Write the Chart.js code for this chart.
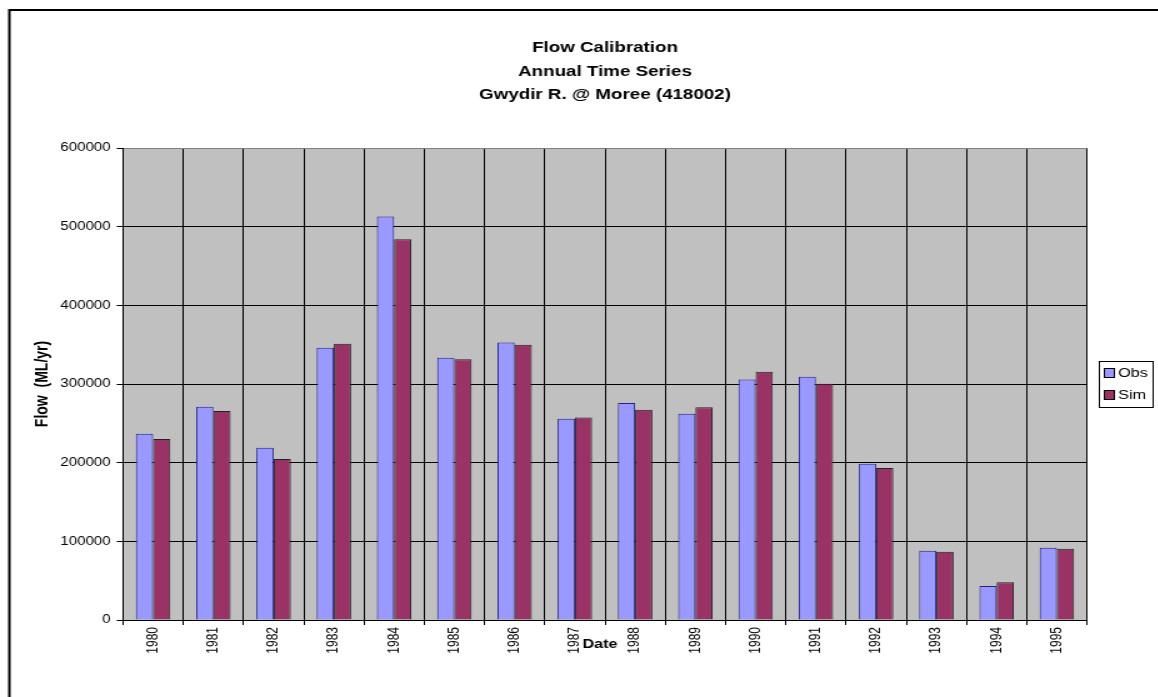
<!DOCTYPE html>
<html>
<head>
<meta charset="utf-8">
<script src="https://cdn.jsdelivr.net/npm/chart.js@4.4.1/dist/chart.umd.min.js"></script>
<style>
  html, body { margin: 0; padding: 0; background: #fff; overflow: hidden; }
  /* the chart is laid out narrow and stretched sideways, like the pasted Excel picture */
  #flow { display: block; transform: scaleX(1.25); transform-origin: 0 0; }
</style>
</head>
<body>
<canvas id="flow" width="927" height="697"></canvas>
<script>
// Annual flow, observed vs simulated (ML/yr)
const YEARS = ['1980', '1981', '1982', '1983', '1984', '1985', '1986', '1987',
               '1988', '1989', '1990', '1991', '1992', '1993', '1994', '1995'];
const OBS = [236700, 271000, 219000, 346000, 513000, 333300, 352900, 255800,
             275700, 262200, 305800, 309200, 198600, 88100, 43200, 91900];
const SIM = [230000, 265600, 204600, 351100, 484100, 331600, 349900, 257500,
             267200, 270600, 315500, 300300, 193100, 86800, 47900, 90600];
const TITLE_LINES = ['Flow Calibration', 'Annual Time Series', 'Gwydir R. @ Moree (418002)'];
const Y_TITLE = 'Flow  (ML/yr)';
const X_TITLE = 'Date';

const FONT = 'Arial, "Liberation Sans", sans-serif';
const OBS_COLOR = '#9999ff';
const SIM_COLOR = '#993366';

// white page, frame, grey plot area
const backdrop = {
  id: 'backdrop',
  beforeDraw(chart) {
    const { ctx, chartArea: a } = chart;
    ctx.save();
    ctx.fillStyle = '#fff';
    ctx.fillRect(0, 0, chart.width, chart.height);
    ctx.strokeStyle = '#000';
    ctx.lineWidth = 2;
    ctx.beginPath();
    ctx.moveTo(7.5, chart.height);
    ctx.lineTo(7.5, 10);
    ctx.lineTo(chart.width, 10);
    ctx.stroke();
    ctx.fillStyle = '#c0c0c0';
    ctx.fillRect(a.left, a.top, a.right - a.left, a.bottom - a.top);
    ctx.restore();
  }
};

// titles and the small boxed legend
const captions = {
  id: 'captions',
  afterDraw(chart) {
    const { ctx, chartArea: a } = chart;
    ctx.save();
    ctx.fillStyle = '#000';
    ctx.textAlign = 'center';
    ctx.textBaseline = 'middle';
    ctx.font = 'bold 15px ' + FONT;
    const cx = (a.left + a.right) / 2;
    TITLE_LINES.forEach((t, i) => ctx.fillText(t, cx, 48 + i * 23.5));

    ctx.font = 'bold 13px ' + FONT;
    ctx.fillText(X_TITLE, cx - 4, 644);
    ctx.save();
    ctx.translate(34, (a.top + a.bottom) / 2);
    ctx.rotate(-Math.PI / 2);
    ctx.font = 'bold 14px ' + FONT;
    ctx.fillText(Y_TITLE, 0, 0);
    ctx.restore();

    // legend box
    const lx = 879.5, ly = 361.5, lw = 43, lh = 46;
    ctx.fillStyle = '#fff';
    ctx.fillRect(lx, ly, lw, lh);
    ctx.strokeStyle = '#000';
    ctx.lineWidth = 1;
    ctx.strokeRect(lx, ly, lw, lh);
    ctx.font = '13px ' + FONT;
    ctx.textAlign = 'left';
    chart.data.datasets.forEach((ds, i) => {
      const y = 373 + i * 22;
      ctx.fillStyle = ds.backgroundColor;
      ctx.fillRect(883.5, y - 4.5, 8, 9);
      ctx.strokeRect(883.5, y - 4.5, 8, 9);
      ctx.fillStyle = '#000';
      ctx.fillText(ds.label, 894.5, y);
    });
    ctx.restore();
  }
};

new Chart(document.getElementById('flow'), {
  type: 'bar',
  data: {
    labels: YEARS,
    datasets: [
      { label: 'Obs', data: OBS, backgroundColor: OBS_COLOR, borderColor: '#20208a', borderWidth: 1 },
      { label: 'Sim', data: SIM, backgroundColor: SIM_COLOR, borderColor: '#222', borderWidth: 1 }
    ]
  },
  options: {
    responsive: false,
    animation: false,
    categoryPercentage: 2 / 3.5,
    barPercentage: 1,
    layout: { padding: { left: 8, right: 57.4, top: 148, bottom: 37 } },
    plugins: {
      legend: { display: false },
      title: { display: false },
      tooltip: { enabled: false }
    },
    scales: {
      x: {
        afterFit: s => { s.height = 40; },
        grid: {
          offset: true,
          color: c => (c.index === YEARS.length ? '#808080' : '#000'),
          tickColor: '#000',
          tickLength: 5
        },
        border: { color: '#000', width: 1 },
        ticks: {
          color: '#000',
          font: { family: FONT, size: 12 },
          autoSkip: false,
          minRotation: 90,
          maxRotation: 90,
          padding: 2
        }
      },
      y: {
        min: 0,
        max: 600000,
        afterFit: s => { s.width = 90.4; },
        grid: {
          color: c => (c.tick && c.tick.value === 600000 ? '#808080' : '#000'),
          tickColor: '#000',
          tickLength: 5
        },
        border: { color: '#000', width: 1 },
        ticks: {
          stepSize: 100000,
          color: '#000',
          font: { family: FONT, size: 12 },
          padding: 5,
          callback: v => String(v)
        }
      }
    }
  },
  plugins: [backdrop, captions]
});
</script>
</body>
</html>
